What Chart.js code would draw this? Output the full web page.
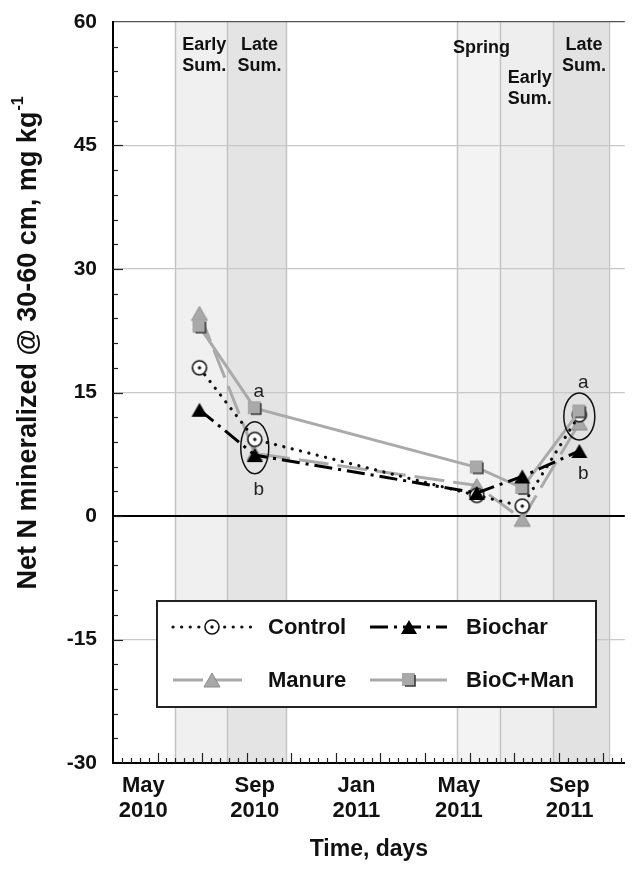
<!DOCTYPE html>
<html>
<head>
<meta charset="utf-8">
<title>Net N mineralized 30-60 cm</title>
<script src="https://cdn.jsdelivr.net/npm/chart.js@4.4.1/dist/chart.umd.min.js"></script>
<style>
    html, body { margin: 0; padding: 0; background: #fff; overflow: hidden; }
    #wrap { width: 636px; height: 869px; }
</style>
</head>
<body>
<div id="wrap"><canvas id="chartN" width="636" height="869"></canvas></div>
<script>
// Sampling dates, in days along the time axis
const sampleDays = [97, 159, 408, 459, 523];

// Net N mineralized @ 30-60 cm (mg/kg)
const controlN = [18.0, 9.3, 2.5, 1.2, 12.3];
const biocharN = [12.9, 7.4, 2.8, 4.8, 7.9];
const manureN  = [24.6, 7.6, 3.7, -0.4, 11.3];
const biocManN = [23.0, 13.1, 5.9, 3.4, 12.7];

// Month labels under the time axis
const monthDays   = [34, 159, 273, 388, 512];
const monthLabels = [['May', '2010'], ['Sep', '2010'], ['Jan', '2011'], ['May', '2011'], ['Sep', '2011']];

// Seasons (shaded bands)
const seasonNames = [['Early', 'Sum.'], ['Late', 'Sum.'], ['Spring'], ['Early', 'Sum.'], ['Late', 'Sum.']];
const seasonFrom  = [70, 128, 386, 434, 494];
const seasonTo    = [128, 194, 434, 494, 556];

// Significance letters and the circled groups
const sigText   = ['a', 'b', 'a', 'b'];
const sigDays   = [159, 159, 523, 523];
const sigValues = [15.1, 3.2, 16.2, 5.1];
const ringDays   = [159, 523];
const ringValues = [8.3, 12.1];

const FONT = "'Liberation Sans', Arial, Helvetica, sans-serif";
const bandFill = ['#f0f0f0', '#e4e4e4', '#f3f3f3', '#eeeeee', '#e2e2e2'];
const labelTop = [45, 45, 48, 78, 45];
const ringSize = [[14, 26], [15.5, 23.5]];

Chart.defaults.font.family = FONT;

/* --- marker images --- */
function makeMarker(kind, fill) {
    const c = document.createElement('canvas');
    c.width = 18; c.height = 18;
    const g = c.getContext('2d');
    if (kind === 'circle') {
        g.beginPath(); g.arc(9, 9, 7, 0, Math.PI * 2);
        g.fillStyle = '#fff'; g.fill();
        g.lineWidth = 1.6; g.strokeStyle = '#111'; g.stroke();
        g.beginPath(); g.arc(9, 9, 1.7, 0, Math.PI * 2);
        g.fillStyle = '#111'; g.fill();
    } else if (kind === 'triangle') {
        g.beginPath(); g.moveTo(9, 2); g.lineTo(17, 16); g.lineTo(1, 16); g.closePath();
        g.fillStyle = fill; g.fill();
        if (fill !== '#000') { g.lineWidth = 1; g.strokeStyle = '#8c8c8c'; g.stroke(); }
    } else {
        g.fillStyle = fill; g.fillRect(2, 2, 13, 13);
        g.lineWidth = 1.6; g.strokeStyle = '#3a3a3a';
        g.beginPath(); g.moveTo(15, 4); g.lineTo(15, 15); g.lineTo(5, 15); g.stroke();
    }
    return c;
}

const mkControl = makeMarker('circle');
const mkBiochar = makeMarker('triangle', '#000');
const mkManure  = makeMarker('triangle', '#a8a8a8');
const mkBiocMan = makeMarker('square', '#a9a9a9');

function pts(vals) {
    return sampleDays.map((d, i) => ({ x: d, y: vals[i] }));
}

/* --- background: white, season bands and their edges, season names --- */
const bandsPlugin = {
    id: 'bands',
    beforeDraw(chart) {
        const { ctx, chartArea, scales: { x } } = chart;
        ctx.save();
        ctx.fillStyle = '#fff';
        ctx.fillRect(0, 0, chart.width, chart.height);
        seasonFrom.forEach((d, i) => {
            const x0 = x.getPixelForValue(d), x1 = x.getPixelForValue(seasonTo[i]);
            ctx.fillStyle = bandFill[i];
            ctx.fillRect(x0, chartArea.top, x1 - x0, chartArea.bottom - chartArea.top);
        });
        ctx.strokeStyle = '#c4c4c4';
        ctx.lineWidth = 1.5;
        const edges = [...new Set(seasonFrom.concat(seasonTo))];
        edges.forEach(d => {
            const px = Math.round(x.getPixelForValue(d)) + 0.5;
            ctx.beginPath(); ctx.moveTo(px, chartArea.top); ctx.lineTo(px, chartArea.bottom); ctx.stroke();
        });
        ctx.restore();
    },
    beforeDatasetsDraw(chart) {
        const { ctx, scales: { x } } = chart;
        ctx.save();
        ctx.font = 'bold 18px ' + FONT;
        ctx.fillStyle = '#111';
        ctx.textAlign = 'center';
        ctx.textBaseline = 'middle';
        seasonNames.forEach((lines, i) => {
            const cx = x.getPixelForValue((seasonFrom[i] + seasonTo[i]) / 2) + 3;
            lines.forEach((t, k) => ctx.fillText(t, cx, labelTop[i] + k * 21));
        });
        ctx.restore();
    }
};

/* --- inward tick marks, rings, letters, legend, y title --- */
const extrasPlugin = {
    id: 'extras',
    afterDatasetsDraw(chart) {
        const { ctx, chartArea, scales: { x, y } } = chart;
        ctx.save();

        // minor / major tick marks pointing into the plot
        ctx.strokeStyle = '#222';
        ctx.lineWidth = 1.2;
        for (let d = 10; d <= x.max; d += 10) {
            const px = Math.round(x.getPixelForValue(d)) + 0.5;
            const len = d % 50 === 0 ? 10 : 5;
            ctx.beginPath(); ctx.moveTo(px, chartArea.bottom); ctx.lineTo(px, chartArea.bottom - len); ctx.stroke();
        }
        for (let v = y.min + 3; v < y.max; v += 3) {
            const py = Math.round(y.getPixelForValue(v)) + 0.5;
            const len = v % 15 === 0 ? 10 : 5;
            ctx.beginPath(); ctx.moveTo(chartArea.left, py); ctx.lineTo(chartArea.left + len, py); ctx.stroke();
        }

        // rings around the compared points
        ctx.strokeStyle = '#111';
        ctx.lineWidth = 1.5;
        ringDays.forEach((d, i) => {
            ctx.beginPath();
            ctx.ellipse(x.getPixelForValue(d), y.getPixelForValue(ringValues[i]),
                ringSize[i][0], ringSize[i][1], 0, 0, Math.PI * 2);
            ctx.stroke();
        });

        // significance letters
        ctx.font = '19px ' + FONT;
        ctx.fillStyle = '#222';
        ctx.textAlign = 'center';
        ctx.textBaseline = 'middle';
        sigText.forEach((t, i) => {
            ctx.fillText(t, x.getPixelForValue(sigDays[i]) + 4, y.getPixelForValue(sigValues[i]));
        });

        // legend box
        const box = { left: 157, top: 601, width: 439, height: 106 };
        ctx.fillStyle = '#fff';
        ctx.fillRect(box.left, box.top, box.width, box.height);
        ctx.strokeStyle = '#222';
        ctx.lineWidth = 2;
        ctx.strokeRect(box.left, box.top, box.width, box.height);

        const cols = [
            { from: 173, to: 251, mark: 212, text: 268 },
            { from: 370, to: 447, mark: 409, text: 466 }
        ];
        const rows = [627, 680];
        chart.data.datasets.forEach((ds, i) => {
            const c = cols[i % 2], ry = rows[Math.floor(i / 2)];
            ctx.save();
            ctx.strokeStyle = ds.borderColor;
            ctx.lineWidth = ds.borderWidth;
            ctx.lineCap = ds.borderCapStyle || 'butt';
            ctx.setLineDash(ds.borderDash || []);
            ctx.beginPath(); ctx.moveTo(c.from, ry); ctx.lineTo(c.to, ry); ctx.stroke();
            ctx.restore();
            const img = ds.pointStyle;
            ctx.drawImage(img, c.mark - img.width / 2, ry - img.height / 2);
            ctx.font = 'bold 22px ' + FONT;
            ctx.fillStyle = '#111';
            ctx.textAlign = 'left';
            ctx.textBaseline = 'middle';
            ctx.fillText(ds.label, c.text, ry + 1);
        });
        ctx.restore();
    },
    afterDraw(chart) {
        const { ctx } = chart;
        const main = 'Net N mineralized @ 30-60 cm, mg kg';
        const sup = '-1';
        ctx.save();
        ctx.translate(36, 343);
        ctx.rotate(-Math.PI / 2);
        ctx.fillStyle = '#111';
        ctx.textBaseline = 'alphabetic';
        ctx.textAlign = 'left';
        ctx.font = 'bold 27px ' + FONT;
        const w1 = ctx.measureText(main).width;
        ctx.font = 'bold 16px ' + FONT;
        const w2 = ctx.measureText(sup).width;
        const start = -(w1 + w2 + 1) / 2;
        ctx.font = 'bold 27px ' + FONT;
        ctx.fillText(main, start, 0);
        ctx.font = 'bold 16px ' + FONT;
        ctx.fillText(sup, start + w1 + 1, -13);
        ctx.restore();
    }
};

new Chart(document.getElementById('chartN'), {
    type: 'line',
    data: {
        datasets: [
            {
                label: 'Control',
                data: pts(controlN),
                order: 2,
                borderColor: '#111',
                borderWidth: 3.2,
                borderDash: [0.1, 8.5],
                borderCapStyle: 'round',
                pointStyle: mkControl
            },
            {
                label: 'Biochar',
                data: pts(biocharN),
                order: 0,
                borderColor: '#000',
                borderWidth: 3,
                borderDash: [18, 6, 3, 6],
                pointStyle: mkBiochar
            },
            {
                label: 'Manure',
                data: pts(manureN),
                order: 3,
                borderColor: '#aaaaaa',
                borderWidth: 3,
                borderDash: [30, 9],
                pointStyle: mkManure
            },
            {
                label: 'BioC+Man',
                data: pts(biocManN),
                order: 1,
                borderColor: '#aaaaaa',
                borderWidth: 3,
                pointStyle: mkBiocMan
            }
        ]
    },
    options: {
        responsive: false,
        animation: false,
        events: [],
        layout: { padding: { top: 22, right: 0, bottom: 0, left: 0 } },
        elements: {
            line: { tension: 0, fill: false },
            point: { radius: 8 }
        },
        plugins: {
            legend: { display: false },
            tooltip: { enabled: false }
        },
        scales: {
            x: {
                type: 'linear',
                position: 'bottom',
                min: 0,
                max: 574,
                afterBuildTicks: s => { s.ticks = monthDays.map(v => ({ value: v })); },
                afterFit: s => { s.height = 106; s.paddingLeft = 0; s.paddingRight = 0; },
                ticks: {
                    autoSkip: false,
                    maxRotation: 0,
                    padding: 10,
                    color: '#111',
                    font: { size: 22, weight: 'bold', lineHeight: 1.15 },
                    callback: (v, i) => monthLabels[i]
                },
                grid: { drawOnChartArea: false, drawTicks: false },
                border: { color: '#000', width: 2 },
                title: {
                    display: true,
                    text: 'Time, days',
                    color: '#111',
                    font: { size: 23, weight: 'bold' },
                    padding: { top: 0, bottom: 6 }
                }
            },
            y: {
                min: -30,
                max: 60,
                afterFit: s => { s.width = 113; s.paddingTop = 0; s.paddingBottom = 0; },
                ticks: {
                    stepSize: 15,
                    padding: 16,
                    color: '#111',
                    font: { size: 21, weight: 'bold' }
                },
                grid: {
                    drawTicks: false,
                    color: c => c.tick.value === 0 ? '#000' : (c.tick.value === 60 ? '#555' : '#c8c8c8'),
                    lineWidth: c => c.tick.value === 0 ? 2 : 1.2
                },
                border: { color: '#000', width: 2 }
            }
        }
    },
    plugins: [bandsPlugin, extrasPlugin]
});
</script>
</body>
</html>
